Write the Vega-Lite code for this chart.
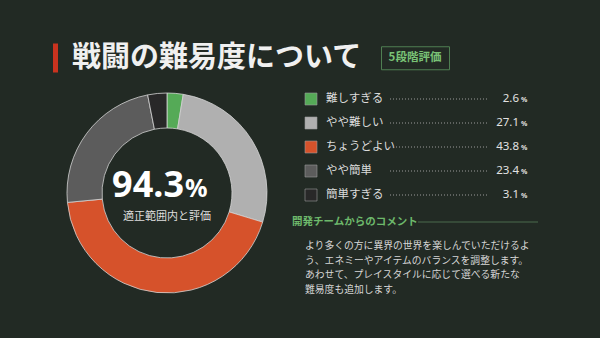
{
  "$schema": "https://vega.github.io/schema/vega-lite/v6.json",
  "background": "#222a24",
  "padding": {"left": 53, "top": 43, "right": 58, "bottom": 40},
  "config": {"view": {"stroke": null}, "font": "Noto Sans CJK JP"},
  "datasets": {
    "ratings": [
      {"order": 1, "rating": "難しすぎる", "pct": 2.6},
      {"order": 2, "rating": "やや難しい", "pct": 27.1},
      {"order": 3, "rating": "ちょうどよい", "pct": 43.8},
      {"order": 4, "rating": "やや簡単", "pct": 23.4},
      {"order": 5, "rating": "簡単すぎる", "pct": 3.1}
    ],
    "summary": [{"value": 94.3, "label": "適正範囲内と評価"}],
    "heading": [{"title": "戦闘の難易度について", "tag": "5段階評価"}],
    "comment": [{"head": "開発チームからのコメント", "body": ["より多くの方に異界の世界を楽しんでいただけるよ", "う、エネミーやアイテムのバランスを調整します。", "あわせて、プレイスタイルに応じて選べる新たな", "難易度も追加します。"]}]
  },
  "spacing": 14,
  "vconcat": [
    {
      "spacing": 14,
      "center": true,
      "hconcat": [
        {"width": 5, "height": 29, "data": {"name": "heading"}, "mark": {"type": "rect", "color": "#c9331f"}, "encoding": {}},
        {"width": 294, "height": 29, "data": {"name": "heading"}, "mark": {"type": "text", "align": "left", "baseline": "middle", "fontSize": 29, "fontWeight": "bold", "color": "#f0f0f0"}, "encoding": {"x": {"value": 0}, "text": {"field": "title", "type": "nominal"}}},
        {"width": 68, "height": 23, "view": {"stroke": "#4f7f52", "strokeWidth": 1}, "data": {"name": "heading"}, "mark": {"type": "text", "baseline": "middle", "fontSize": 11.5, "fontWeight": "bold", "color": "#79c276"}, "encoding": {"text": {"field": "tag", "type": "nominal"}}}
      ]
    },
    {
      "spacing": 11,
      "hconcat": [
        {
          "width": 228,
          "height": 212,
          "layer": [
            {
              "data": {"name": "ratings"},
              "mark": {"type": "arc", "innerRadius": 65, "outerRadius": 100, "stroke": "#d4d4d4", "strokeWidth": 0.8},
              "encoding": {
                "theta": {"field": "pct", "type": "quantitative", "stack": true},
                "order": {"field": "order", "type": "quantitative"},
                "color": {"field": "rating", "type": "nominal", "legend": null,
                  "scale": {"domain": ["難しすぎる", "やや難しい", "ちょうどよい", "やや簡単", "簡単すぎる"], "range": ["#55aa57", "#b0b0b0", "#d6522b", "#5c5c5c", "#282828"]}}
              }
            },
            {
              "data": {"name": "summary"},
              "mark": {"type": "text", "align": "right", "baseline": "alphabetic", "dx": 17, "dy": 4, "fontSize": 36, "fontWeight": "bold", "color": "#ffffff", "font": "Noto Sans"},
              "encoding": {"text": {"field": "value", "type": "quantitative", "format": ".1f"}}
            },
            {
              "data": {"name": "summary"},
              "mark": {"type": "text", "align": "left", "baseline": "alphabetic", "dx": 18, "dy": 4, "fontSize": 25, "fontWeight": "bold", "color": "#ffffff", "font": "Noto Sans"},
              "encoding": {"text": {"value": "%"}}
            },
            {
              "data": {"name": "summary"},
              "mark": {"type": "text", "baseline": "middle", "dy": 24, "fontSize": 11, "color": "#dedede"},
              "encoding": {"text": {"field": "label", "type": "nominal"}}
            }
          ]
        },
        {
          "spacing": 8,
          "vconcat": [
            {
              "width": 250,
              "height": 120,
              "data": {"name": "ratings"},
              "encoding": {
                "y": {"field": "rating", "type": "nominal", "sort": {"field": "order", "op": "min"}, "axis": null, "scale": {"paddingInner": 0, "paddingOuter": 0}}
              },
              "layer": [
                {
                  "mark": {"type": "square", "size": 144, "filled": true, "opacity": 1, "stroke": "#9a9a9a", "strokeWidth": 0.6},
                  "encoding": {
                    "x": {"value": 19},
                    "color": {"field": "rating", "type": "nominal", "legend": null,
                      "scale": {"domain": ["難しすぎる", "やや難しい", "ちょうどよい", "やや簡単", "簡単すぎる"], "range": ["#55aa57", "#b0b0b0", "#d6522b", "#5c5c5c", "#282828"]}}
                  }
                },
                {
                  "mark": {"type": "text", "align": "left", "baseline": "middle", "fontSize": 11.5, "color": "#dcdcdc"},
                  "encoding": {"x": {"value": 34}, "text": {"field": "rating", "type": "nominal"}}
                },
                {
                  "mark": {"type": "rule", "strokeDash": [1, 2], "color": "#9a9a9a", "strokeWidth": 1},
                  "encoding": {"x": {"value": 98}, "x2": {"value": 196}}
                },
                {
                  "mark": {"type": "text", "align": "right", "baseline": "middle", "fontSize": 11.5, "color": "#e2e2e2", "font": "Noto Sans"},
                  "encoding": {"x": {"value": 227}, "text": {"field": "pct", "type": "quantitative", "format": ".1f"}}
                },
                {
                  "mark": {"type": "text", "align": "left", "baseline": "middle", "dy": 1, "fontSize": 7, "fontWeight": "bold", "color": "#e2e2e2", "font": "Noto Sans"},
                  "encoding": {"x": {"value": 229}, "text": {"value": "%"}}
                }
              ]
            },
            {
              "width": 250,
              "height": 14,
              "data": {"name": "comment"},
              "layer": [
                {
                  "mark": {"type": "text", "align": "left", "baseline": "middle", "fontSize": 10.5, "fontWeight": "bold", "color": "#6db86b"},
                  "encoding": {"x": {"value": 0}, "text": {"field": "head", "type": "nominal"}}
                },
                {
                  "mark": {"type": "rule", "color": "#4a6b4d", "strokeWidth": 1},
                  "encoding": {"x": {"value": 126}, "x2": {"value": 246}, "y": {"value": 7}}
                }
              ]
            },
            {
              "width": 250,
              "height": 62,
              "data": {"name": "comment"},
              "mark": {"type": "text", "align": "left", "baseline": "middle", "dy": -22, "lineHeight": 14.5, "fontSize": 9.8, "color": "#d6d6d6"},
              "encoding": {"x": {"value": 13}, "text": {"field": "body", "type": "nominal"}}
            }
          ]
        }
      ]
    }
  ]
}
